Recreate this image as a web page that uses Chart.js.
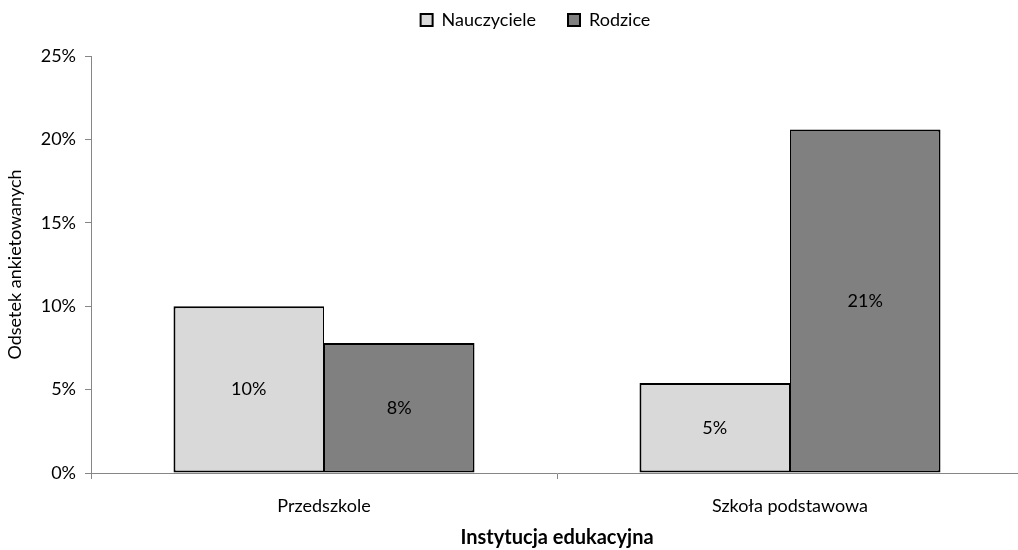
<!DOCTYPE html>
<html>
<head>
<meta charset="utf-8">
<script src="https://cdn.jsdelivr.net/npm/chart.js@4.4.1/dist/chart.umd.min.js"></script>
<style>
  html, body { margin: 0; padding: 0; background: #fff; overflow: hidden; }
  #wrap { width: 1024px; height: 550px; }
</style>
</head>
<body>
<div id="wrap"><canvas id="chart"></canvas></div>
<script>
// data
const categories = ["Przedszkole", "Szkoła podstawowa"];
const seriesNames = ["Nauczyciele", "Rodzice"];
const nauczyciele = [0.100, 0.054];
const rodzice = [0.078, 0.206];
const yTicks = [0, 0.05, 0.10, 0.15, 0.20, 0.25];

const font = "Lato, 'Open Sans', sans-serif";
const fontSize = 18;
const axisGray = '#868686';

// writes the rounded value in the middle of each bar
const barLabels = {
    id: 'barLabels',
    afterDatasetsDraw(chart) {
        const ctx = chart.ctx;
        ctx.save();
        ctx.font = fontSize + 'px ' + font;
        ctx.fillStyle = '#000';
        ctx.textAlign = 'center';
        ctx.textBaseline = 'middle';
        chart.data.datasets.forEach((ds, i) => {
            chart.getDatasetMeta(i).data.forEach((bar, j) => {
                const mid = (bar.y + bar.base) / 2;
                ctx.fillText(Math.round(ds.data[j] * 100) + '%', bar.x, mid);
            });
        });
        ctx.restore();
    }
};

// more room under the legend, and nudge it a bit to the right
const legendSpace = {
    id: 'legendSpace',
    beforeInit(chart) {
        const fit = chart.legend.fit;
        chart.legend.fit = function () {
            fit.bind(chart.legend)();
            this.height += 17;
        };
    },
    afterLayout(chart) {
        chart.legend.left += 24;
        chart.legend.right += 24;
    }
};

new Chart(document.getElementById('chart'), {
    type: 'bar',
    data: {
        labels: categories,
        datasets: [{
            label: seriesNames[0],
            data: nauczyciele,
            backgroundColor: '#d9d9d9',
            borderColor: '#000',
            borderWidth: { top: 2, left: 2, bottom: 2, right: 1 },
            borderSkipped: false
        }, {
            label: seriesNames[1],
            data: rodzice,
            backgroundColor: '#808080',
            borderColor: '#000',
            borderWidth: { top: 2, left: 1, bottom: 2, right: 2 },
            borderSkipped: false
        }]
    },
    options: {
        responsive: true,
        maintainAspectRatio: false,
        animation: false,
        categoryPercentage: 0.646,
        barPercentage: 1,
        layout: { padding: { top: -21, right: 1, left: 0, bottom: 0 } },
        plugins: {
            legend: {
                position: 'top',
                labels: {
                    boxWidth: 12,
                    boxHeight: 12,
                    padding: 32,
                    color: '#000',
                    font: { family: font, size: fontSize },
                    generateLabels(chart) {
                        return chart.data.datasets.map((ds, i) => ({
                            text: ds.label,
                            fillStyle: ds.backgroundColor,
                            strokeStyle: '#000',
                            lineWidth: 2,
                            fontColor: '#000',
                            datasetIndex: i
                        }));
                    }
                }
            },
            tooltip: { enabled: false }
        },
        scales: {
            x: {
                grid: {
                    offset: true,
                    drawOnChartArea: false,
                    color: axisGray,
                    tickLength: 6
                },
                border: { color: axisGray, width: 1 },
                ticks: {
                    color: '#000',
                    padding: 16,
                    font: { family: font, size: fontSize }
                },
                title: {
                    display: true,
                    text: 'Instytucja edukacyjna',
                    color: '#000',
                    font: { family: font, size: 20, weight: 'bold' },
                    padding: { top: 6, bottom: 0 }
                },
                afterFit(scale) { scale.height = 77; }
            },
            y: {
                min: 0,
                max: 0.25,
                afterBuildTicks(scale) {
                    scale.ticks = yTicks.map(v => ({ value: v }));
                },
                grid: {
                    drawOnChartArea: false,
                    color: axisGray,
                    tickLength: 6
                },
                border: { color: axisGray, width: 1 },
                ticks: {
                    color: '#000',
                    padding: 9,
                    font: { family: font, size: fontSize },
                    callback: v => Math.round(v * 100) + '%'
                },
                title: {
                    display: true,
                    text: 'Odsetek ankietowanych',
                    color: '#000',
                    font: { family: font, size: fontSize },
                    padding: { top: 4, bottom: 0 }
                },
                afterFit(scale) { scale.width = 91; }
            }
        }
    },
    plugins: [barLabels, legendSpace]
});
</script>
</body>
</html>
